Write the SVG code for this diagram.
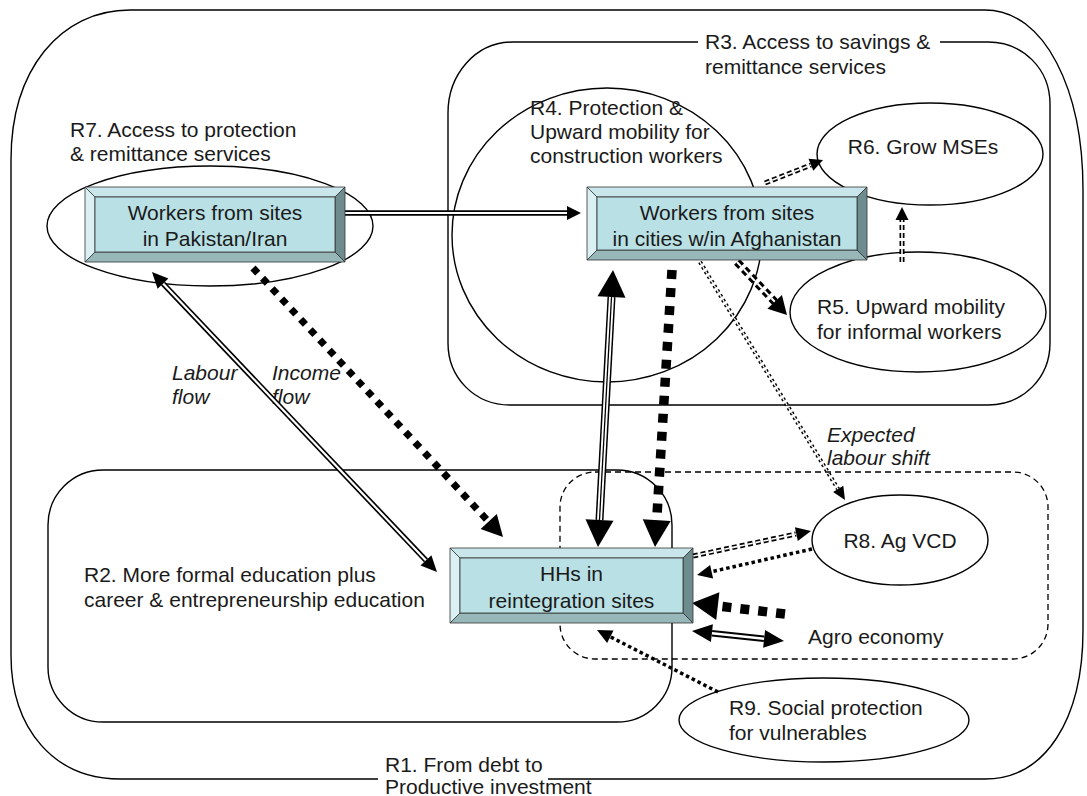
<svg xmlns="http://www.w3.org/2000/svg" width="1087" height="796" viewBox="0 0 1087 796">
<style>
text{font-family:"Liberation Sans",Arial,sans-serif;font-size:21px;fill:#1a1a1a}
.c{text-anchor:middle}
.it{font-style:italic}
.ln{fill:none;stroke:#000;stroke-width:1.4}
.dsh{fill:none;stroke:#000;stroke-width:1.3;stroke-dasharray:6 4}
.bv{stroke:#333;stroke-width:0.8}
.dlb{fill:none;stroke:#000;stroke-width:5.5}
.dlw{fill:none;stroke:#fff;stroke-width:2.2}
.tlb{fill:none;stroke:#000;stroke-width:8}
.tlw{fill:none;stroke:#fff;stroke-width:5}
.tlc{fill:none;stroke:#000;stroke-width:1.3}
.sq{fill:none;stroke:#000;stroke-width:9.5;stroke-dasharray:9 9}
.dia{fill:none;stroke:#000;stroke-width:7;stroke-dasharray:7 7}
.ddb{fill:none;stroke:#000;stroke-width:5;stroke-dasharray:5 3}
.ddw{fill:none;stroke:#fff;stroke-width:1.6;stroke-dasharray:5 3}
.tdb{fill:none;stroke:#000;stroke-width:8;stroke-dasharray:6 4}
.tdw{fill:none;stroke:#fff;stroke-width:2;stroke-dasharray:6 4}
.pdb{fill:none;stroke:#000;stroke-width:4.2;stroke-dasharray:2.5 3}
.pdw{fill:none;stroke:#fff;stroke-width:1.3;stroke-dasharray:2.5 3}
.dot{fill:none;stroke:#000;stroke-width:3.5;stroke-dasharray:3.5 3}
.ah{fill:#000}
</style>
<rect width="1087" height="796" fill="#fff"/>
<g id="R1">
<path class="ln" d="M 548,779 L 985,779 C 1045,779 1083,720 1083,630 L 1083,190 C 1083,90 1045,10 985,10 L 130,10 C 60,10 11,70 11,160 L 11,655 C 11,730 55,779 120,779 L 378,779"/>
<text x="385" y="772">R1. From debt to</text>
<text x="385" y="794">Productive investment</text>
</g>
<g id="R2">
<rect class="ln" x="48" y="470" width="624" height="252" rx="55" ry="55"/>
<text x="84" y="582">R2. More formal education plus</text>
<text x="84" y="607">career &amp; entrepreneurship education</text>
</g>
<g id="R3">
<path class="ln" d="M 698,42 L 513,42 C 475,42 448,75 448,113 L 448,343 C 448,378 475,405 510,405 L 988,405 C 1023,405 1050,378 1050,343 L 1050,104 C 1050,69 1023,42 988,42 L 940,42"/>
<text x="705" y="49">R3. Access to savings &amp;</text>
<text x="705" y="74">remittance services</text>
</g>
<g id="R4">
<ellipse class="ln" cx="607" cy="235" rx="155" ry="147"/>
<text x="530" y="115">R4. Protection &amp;</text>
<text x="530" y="139">Upward mobility for</text>
<text x="530" y="163">construction workers</text>
</g>
<g id="R7">
<ellipse class="ln" cx="210" cy="226" rx="163" ry="60"/>
<text x="70" y="137">R7. Access to protection</text>
<text x="70" y="161">&amp; remittance services</text>
</g>
<g id="R6">
<ellipse class="ln" cx="930" cy="154" rx="113" ry="51"/>
<text class="c" x="923" y="154">R6. Grow MSEs</text>
</g>
<g id="R5">
<ellipse class="ln" cx="918" cy="312" rx="128" ry="60"/>
<text x="817" y="314">R5. Upward mobility</text>
<text x="817" y="339">for informal workers</text>
</g>
<g id="shift">
<rect class="dsh" x="560" y="472" width="488" height="187" rx="35" ry="35"/>
<text class="it" x="827" y="442">Expected</text>
<text class="it" x="827" y="465">labour shift</text>
<text x="808" y="644">Agro economy</text>
</g>
<g id="R8">
<ellipse class="ln" cx="900" cy="540" rx="88" ry="45"/>
<text class="c" x="900" y="548">R8. Ag VCD</text>
</g>
<g id="R9">
<ellipse class="ln" cx="824" cy="720" rx="145" ry="42"/>
<text x="729" y="715">R9. Social protection</text>
<text x="729" y="740">for vulnerables</text>
</g>
<g id="flowlabels">
<text class="it" x="172" y="380">Labour</text>
<text class="it" x="172" y="404">flow</text>
<text class="it" x="272" y="380">Income</text>
<text class="it" x="272" y="404">flow</text>
</g>
<g id="connectors">
<path class="dlb" d="M 345,213 L 568,213"/><path class="dlw" d="M 345,213 L 568,213"/>
<polygon class="ah" points="581,213 567,206 567,220"/>
<path class="dlb" d="M 163,283.6 L 426,560.4"/><path class="dlw" d="M 163,283.6 L 426,560.4"/>
<polygon class="ah" points="437,572 420.5,565.6 431.4,555.2"/>
<polygon class="ah" points="152,272 157.6,288.8 168.4,278.4"/>
<path class="dia" d="M 253,268 L 489,522"/>
<polygon class="ah" points="503,537 480.6,529.1 496.8,514.1"/>
<path class="tlb" d="M 611.5,297 L 599.5,520"/><path class="tlw" d="M 611.5,297 L 599.5,520"/><path class="tlc" d="M 611.5,297 L 599.5,520"/>
<polygon class="ah" points="598,547 585.5,519.3 613.5,520.8"/>
<polygon class="ah" points="613,270 597.5,296.2 625.5,297.8"/>
<path class="sq" d="M 672,270 L 656.7,520"/>
<polygon class="ah" points="655,547 642.7,519.2 670.7,520.9"/>
<path class="tdb" d="M 737,262 L 775,302"/><path class="tdw" d="M 737,262 L 775,302"/>
<polygon class="ah" points="787,315 767.4,308.8 781.9,295"/>
<path class="pdb" d="M 700,262 L 838,489"/><path class="pdw" d="M 700,262 L 838,489"/>
<polygon class="ah" points="845,500 833.1,492 843.3,485.8"/>
<path class="ddb" d="M 765,183 L 811,165"/><path class="ddw" d="M 765,183 L 811,165"/>
<polygon class="ah" points="823,160 813.3,170.8 808.5,158.8"/>
<path class="ddb" d="M 902,262 L 902,220"/><path class="ddw" d="M 902,262 L 902,220"/>
<polygon class="ah" points="902,207 895.5,220 908.5,220"/>
<path class="ddb" d="M 693,556 L 796,534"/><path class="ddw" d="M 693,556 L 796,534"/>
<polygon class="ah" points="811,531 797.8,541 794.9,527.3"/>
<path class="dot" d="M 812,549 L 711.6,571.7"/>
<polygon class="ah" points="697,575 710.1,564.9 713.1,578.5"/>
<path class="sq" d="M 785,614 L 718,606"/>
<polygon class="ah" points="692,603 719.4,592.2 716.2,620"/>
<path class="dlb" d="M 711.9,633.2 L 764.1,638.8" style="stroke-width:6.5"/><path class="dlw" d="M 711.9,633.2 L 764.1,638.8" style="stroke-width:2.5"/>
<polygon class="ah" points="784,641 763.1,647.8 765.1,629.9"/>
<polygon class="ah" points="692,631 710.9,642.1 712.9,624.2"/>
<path class="dot" d="M 718,692 L 610.3,636.8"/>
<polygon class="ah" points="597,630 613.5,630.6 607.1,643"/>
</g>
<g id="boxPak">
<polygon class="bv" fill="#c9e7ea" points="85,187 345,187 335,197 95,197"/>
<polygon class="bv" fill="#dbf0f2" points="85,187 95,197 95,252 85,262"/>
<polygon class="bv" fill="#97b7b9" points="85,262 95,252 335,252 345,262"/>
<polygon class="bv" fill="#6e8b8d" points="345,187 345,262 335,252 335,197"/>
<rect class="bv" fill="#b9e0e4" x="95" y="197" width="240" height="55"/>
<text class="c" x="215" y="219.5">Workers from sites</text>
<text class="c" x="215" y="245.5">in Pakistan/Iran</text>
</g>
<g id="boxAfg">
<polygon class="bv" fill="#c9e7ea" points="587,187 867,187 857,197 597,197"/>
<polygon class="bv" fill="#dbf0f2" points="587,187 597,197 597,250 587,260"/>
<polygon class="bv" fill="#97b7b9" points="587,260 597,250 857,250 867,260"/>
<polygon class="bv" fill="#6e8b8d" points="867,187 867,260 857,250 857,197"/>
<rect class="bv" fill="#b9e0e4" x="597" y="197" width="260" height="53"/>
<text class="c" x="727" y="219.5">Workers from sites</text>
<text class="c" x="727" y="245.5">in cities w/in Afghanistan</text>
</g>
<g id="boxHH">
<polygon class="bv" fill="#c9e7ea" points="450,548 693,548 683,558 460,558"/>
<polygon class="bv" fill="#dbf0f2" points="450,548 460,558 460,613 450,623"/>
<polygon class="bv" fill="#97b7b9" points="450,623 460,613 683,613 693,623"/>
<polygon class="bv" fill="#6e8b8d" points="693,548 693,623 683,613 683,558"/>
<rect class="bv" fill="#b9e0e4" x="460" y="558" width="223" height="55"/>
<text class="c" x="571.5" y="580.5">HHs in</text>
<text class="c" x="571.5" y="607.5">reintegration sites</text>
</g>
</svg>
